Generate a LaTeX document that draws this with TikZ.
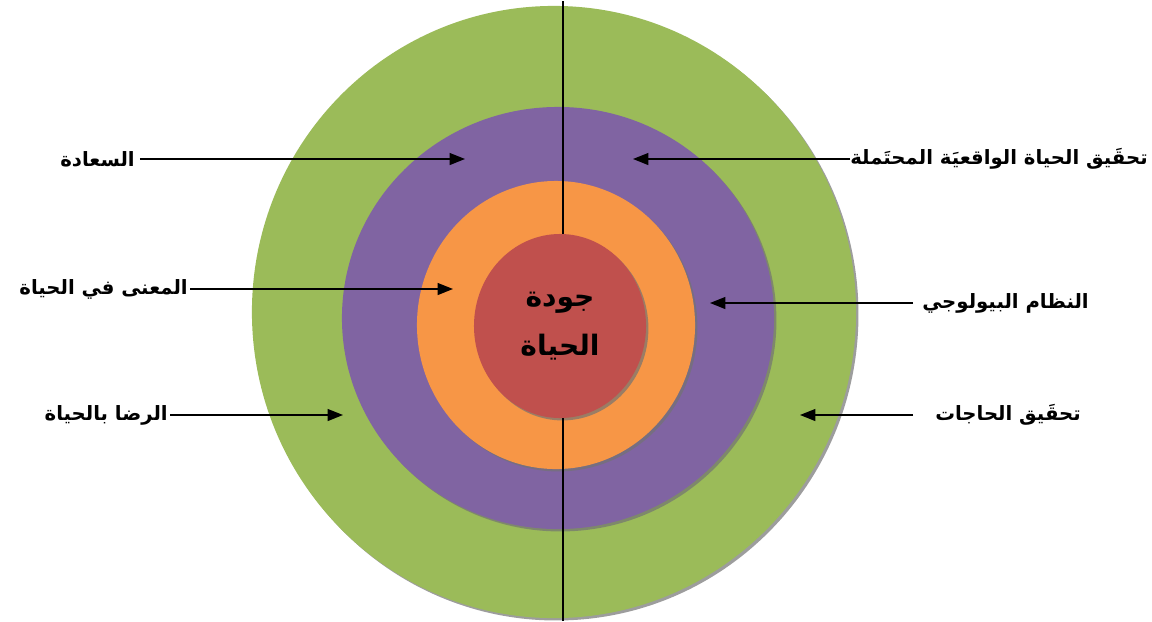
\documentclass[tikz,border=0pt]{standalone}
\usepackage{fontspec}
\usetikzlibrary{arrows.meta,shapes.geometric}
\newfontfamily\arabicfont[Script=Arabic]{DejaVu Sans}
\TeXXeTstate=1
\definecolor{RingGreen}{RGB}{155,187,89}
\definecolor{RingPurple}{RGB}{128,100,162}
\definecolor{RingOrange}{RGB}{247,150,70}
\definecolor{RingRed}{RGB}{192,80,77}
\tikzset{
  ring/.style={ellipse,inner sep=0pt,draw=none},
  ringsh/.style={ellipse,inner sep=0pt,fill=black!55,opacity=0.7,
                 xshift=0.06cm,yshift=-0.06cm},
  lbl/.style={font=\arabicfont\bfseries\fontsize{14}{16}\selectfont,inner sep=0pt},
  core/.style={font=\arabicfont\bfseries\fontsize{20}{35}\selectfont,
               align=center,inner sep=0pt},
  arr/.style={-{Triangle[length=11pt,width=8.5pt]},line width=1.1pt,black},
  axis/.style={line width=0.9pt,black},
}

\begin{document}
\begin{tikzpicture}[x=0.025cm,y=-0.025cm]
  \useasboundingbox (0,0) rectangle (1152,621);
  % rings, outside in
  \node[ringsh,minimum width=15.1cm,minimum height=15.3cm] at (554,312) {};
  \node[ring,fill=RingGreen,minimum width=15.1cm,minimum height=15.3cm] (green) at (554,312) {};
  \node[ringsh,minimum width=10.8cm,minimum height=10.55cm] at (558,318) {};
  \node[ring,fill=RingPurple,minimum width=10.8cm,minimum height=10.55cm] (purple) at (558,318) {};
  \node[ringsh,minimum width=6.95cm,minimum height=7.2cm] at (556,325) {};
  \node[ring,fill=RingOrange,minimum width=6.95cm,minimum height=7.2cm] (orange) at (556,325) {};
  \node[ringsh,minimum width=4.3cm,minimum height=4.6cm] at (560,326) {};
  \node[ring,fill=RingRed,minimum width=4.3cm,minimum height=4.6cm] (red) at (560,326) {};

  % vertical axis
  \coordinate (axtop) at (563,1);
  \coordinate (axbot) at (563,621);
  \draw[axis] (axtop) -- (axtop |- red.north);
  \draw[axis] (axbot) -- (axbot |- red.south);

  \node[core] (qol) at (560,326) {\beginR جودة\endR\\\beginR الحياة\endR};

  % labels on the left
  \node[lbl,anchor=east] (happy) at (135,159) {\beginR السعادة\endR};
  \node[lbl,anchor=east] (meaning) at (188,289) {\beginR المعنى في الحياة\endR};
  \node[lbl,anchor=east] (satisf) at (168,415) {\beginR الرضا بالحياة\endR};
  % labels on the right
  \node[lbl,anchor=west] (actual) at (850,159) {\beginR تحقَيق الحياة الواقعيَة المحتَملة\endR};
  \node[lbl,anchor=west] (bio) at (922,303) {\beginR النظام البيولوجي\endR};
  \node[lbl,anchor=west] (needs) at (935,415) {\beginR تحقَيق الحاجات\endR};

  \coordinate (thappy) at (465,159);
  \coordinate (tmeaning) at (453,289);
  \coordinate (tsatisf) at (343,415);
  \coordinate (tactual) at (633,159);
  \coordinate (tbio) at (710,303);
  \coordinate (tneeds) at (800,415);

  \draw[arr] ([xshift=0.12cm]happy.east) -- (thappy);
  \draw[arr] ([xshift=0.05cm]meaning.east) -- (tmeaning);
  \draw[arr] ([xshift=0.05cm]satisf.east) -- (tsatisf);
  \draw[arr] (actual.west) -- (tactual);
  \draw[arr] ([xshift=-0.22cm]bio.west) -- (tbio);
  \draw[arr] ([xshift=-0.55cm]needs.west) -- (tneeds);
\end{tikzpicture}
\end{document}
